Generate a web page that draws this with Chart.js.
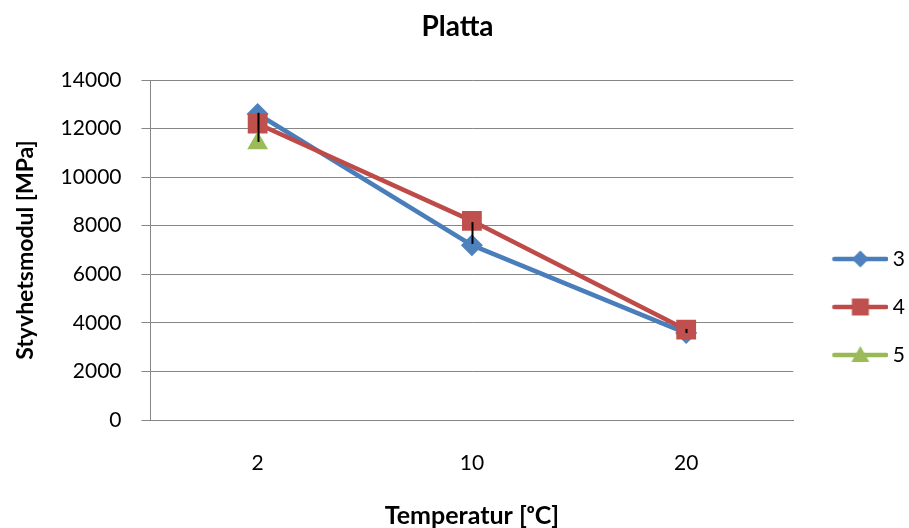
<!DOCTYPE html>
<html>
<head>
<meta charset="utf-8">
<title>Platta</title>
<script src="https://cdn.jsdelivr.net/npm/chart.js@4.4.1/dist/chart.umd.min.js"></script>
<style>
  html, body { margin: 0; padding: 0; background: #fff; }
  #wrap { width: 909px; height: 528px; position: relative; }
</style>
</head>
<body>
<div id="wrap"><canvas id="chart"></canvas></div>
<script>
// ============================================
// DATA
// ============================================

// Temperatur [oC] (categories)
const temps = ['2', '10', '20'];

// Styvhetsmodul [MPa] per provkropp
const serie3 = [12600, 7200, 3580];
const serie4 = [12200, 8200, 3720];
const serie5 = [11400, null, null];

// svarta felstaplar (topp / botten)
const errTop = [12650, 8150, 3750];
const errBottom = [11450, 7250, 3580];

// y-axelns skalstreck
const yTicks = [0, 2000, 4000, 6000, 8000, 10000, 12000, 14000];

// ============================================
// STYLE
// ============================================

const FONT = 'Lato, "Open Sans", sans-serif';
const GRID = '#868686';
const LINE_W = 4.5;

const seriesStyle = [
    { label: '3', line: '#4A7EBB', fill: '#4F81BD', shape: 'rectRot', radius: 11 },
    { label: '4', line: '#BE4B48', fill: '#C0504D', shape: 'rect', radius: 14 },
    { label: '5', line: '#98B954', fill: '#9BBB59', shape: 'triangle', radius: 12 }
];

// legend swatch: line with marker in the middle (drawn on a small canvas)
function makeSwatch(s) {
    const c = document.createElement('canvas');
    c.width = 74;
    c.height = 22;
    const g = c.getContext('2d');
    const cy = 11, x0 = 18, x1 = 74, cx = (x0 + x1) / 2;
    g.strokeStyle = s.line;
    g.lineWidth = LINE_W;
    g.lineCap = 'round';
    g.beginPath();
    g.moveTo(x0 + 2, cy);
    g.lineTo(x1 - 2, cy);
    g.stroke();
    g.fillStyle = s.fill;
    g.beginPath();
    if (s.shape === 'rectRot') {
        g.moveTo(cx, cy - 8.5);
        g.lineTo(cx + 8.5, cy);
        g.lineTo(cx, cy + 8.5);
        g.lineTo(cx - 8.5, cy);
    } else if (s.shape === 'rect') {
        g.rect(cx - 8.5, cy - 8.5, 17, 17);
    } else {
        g.moveTo(cx, cy - 9);
        g.lineTo(cx + 9, cy + 7);
        g.lineTo(cx - 9, cy + 7);
    }
    g.closePath();
    g.fill();
    return c;
}

const swatches = seriesStyle.map(makeSwatch);

// error bars drawn over the datasets
const errorBars = {
    id: 'errorBars',
    afterDatasetsDraw(chart) {
        const ctx = chart.ctx;
        const x = chart.scales.x;
        const y = chart.scales.y;
        ctx.save();
        ctx.strokeStyle = '#000';
        ctx.lineWidth = 2;
        temps.forEach((t, i) => {
            const px = Math.round(x.getPixelForValue(i)) + 0.5;
            ctx.beginPath();
            ctx.moveTo(px, y.getPixelForValue(errTop[i]));
            ctx.lineTo(px, y.getPixelForValue(errBottom[i]));
            ctx.stroke();
        });
        ctx.restore();
    }
};

const values = [serie3, serie4, serie5];
const orders = [3, 2, 1];

const datasets = seriesStyle.map((s, i) => ({
    label: s.label,
    data: values[i],
    borderColor: s.line,
    backgroundColor: s.fill,
    borderWidth: LINE_W,
    pointStyle: s.shape,
    pointRadius: s.radius,
    pointBackgroundColor: s.fill,
    pointBorderColor: s.fill,
    pointBorderWidth: 0,
    tension: 0,
    order: orders[i]
}));

new Chart(document.getElementById('chart'), {
    type: 'line',
    data: { labels: temps, datasets: datasets },
    plugins: [errorBars],
    options: {
        responsive: true,
        maintainAspectRatio: false,
        animation: false,
        layout: { padding: { left: 0, right: -6, top: 0, bottom: 0 } },
        plugins: {
            title: {
                display: true,
                text: 'Platta',
                color: '#000',
                font: { family: FONT, size: 28, weight: 'bold' },
                padding: { top: 10, bottom: 36.4 }
            },
            legend: {
                position: 'right',
                align: 'center',
                // empty title only pushes the entries down
                title: { display: true, text: '', font: { size: 1, lineHeight: 1 }, padding: { top: 85, bottom: 0 } },
                labels: {
                    usePointStyle: true,
                    pointStyleWidth: 62,
                    padding: 27,
                    color: '#000',
                    font: { family: FONT, size: 21 },
                    generateLabels(chart) {
                        return chart.data.datasets.map((d, i) => ({
                            text: d.label,
                            pointStyle: swatches[i],
                            fillStyle: d.backgroundColor,
                            strokeStyle: d.borderColor,
                            lineWidth: 0,
                            hidden: !chart.isDatasetVisible(i),
                            datasetIndex: i,
                            fontColor: '#000'
                        }));
                    }
                }
            },
            tooltip: { enabled: false }
        },
        scales: {
            x: {
                offset: true,
                grid: { display: false, drawTicks: false },
                border: { display: true, color: GRID, width: 1 },
                ticks: { color: '#000', padding: 30, font: { family: FONT, size: 21, lineHeight: 1.238 } },
                title: {
                    display: true,
                    text: 'Temperatur [ᵒC]',
                    color: '#000',
                    font: { family: FONT, size: 25, weight: 'bold', lineHeight: 0.8 },
                    padding: { top: 0, bottom: 2 }
                }
            },
            y: {
                min: yTicks[0],
                max: yTicks[yTicks.length - 1],
                afterBuildTicks(scale) {
                    scale.ticks = yTicks.map(v => ({ value: v }));
                },
                grid: { color: GRID, lineWidth: 1, tickLength: 9, drawTicks: true },
                border: { display: true, color: GRID, width: 1 },
                ticks: {
                    color: '#000',
                    padding: 20,
                    font: { family: FONT, size: 21 },
                    callback: v => String(v)
                },
                title: {
                    display: true,
                    text: 'Styvhetsmodul [MPa]',
                    color: '#000',
                    font: { family: FONT, size: 23, weight: 'bold' },
                    padding: { top: 12, bottom: 1 }
                }
            }
        }
    }
});
</script>
</body>
</html>
